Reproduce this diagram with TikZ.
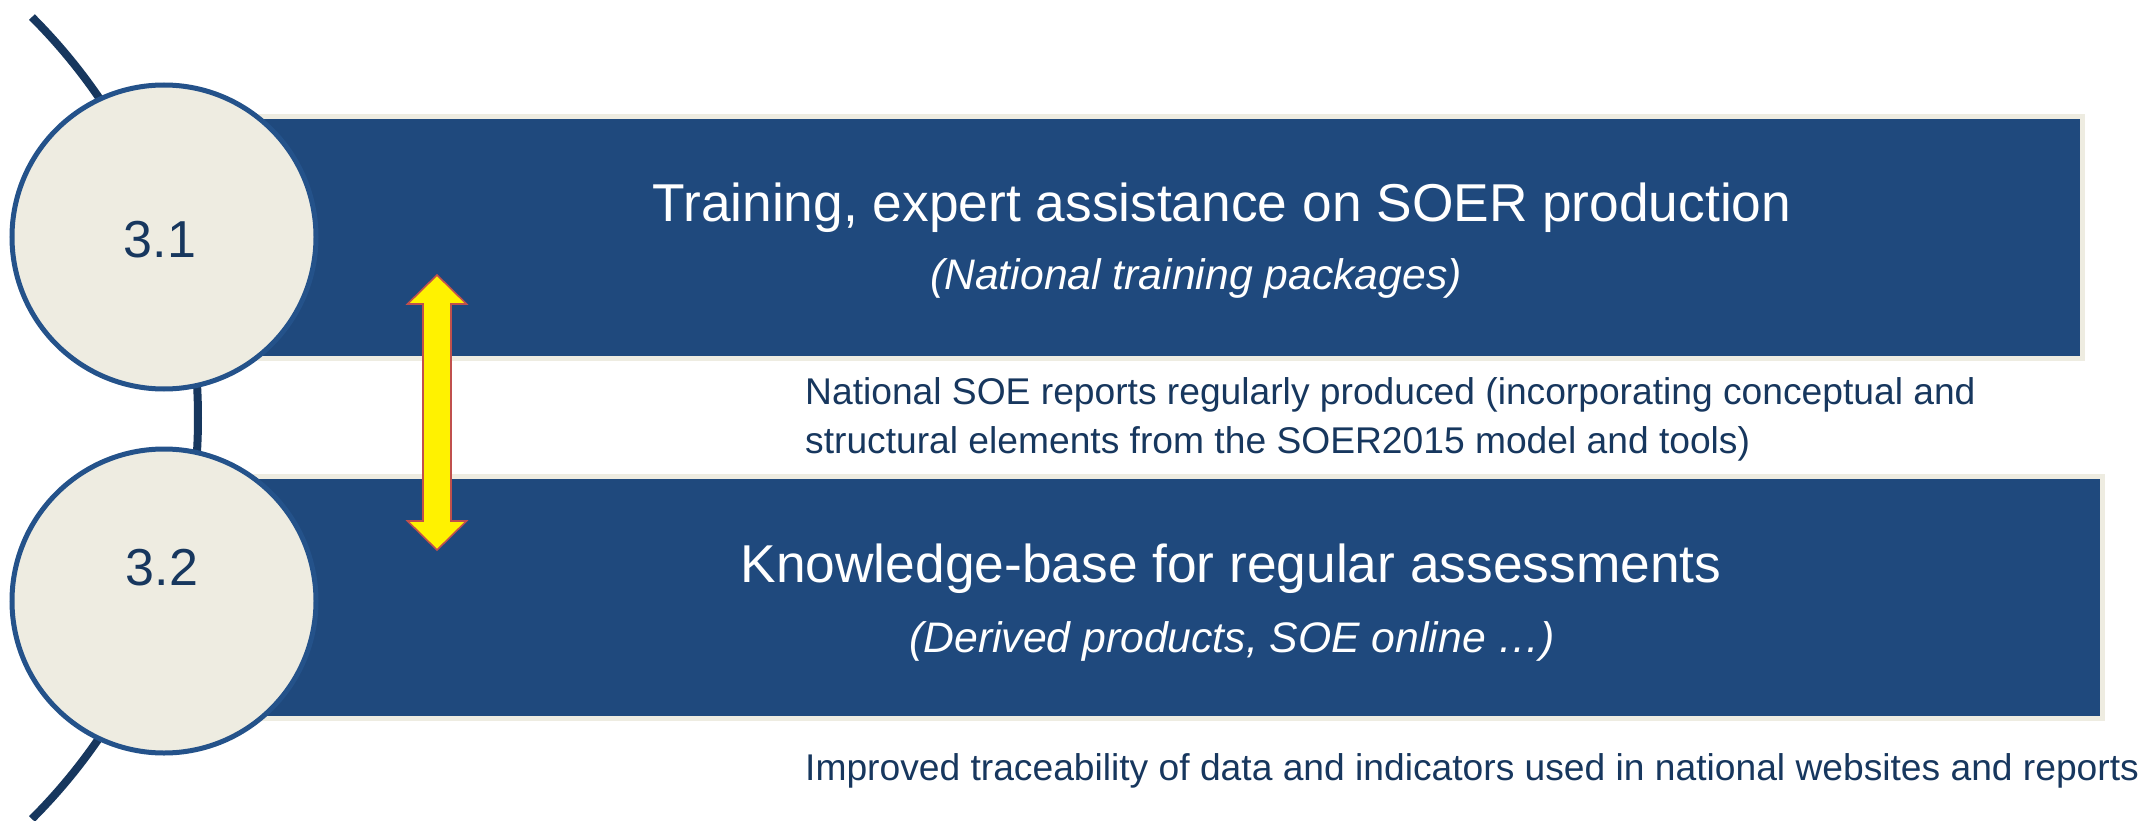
\documentclass[tikz,border=0pt]{standalone}
\usepackage{fontspec}
\setmainfont{Liberation Sans}
\definecolor{boxblue}{HTML}{1F497D}
\definecolor{cream}{HTML}{EEECE1}
\definecolor{ringblue}{HTML}{24528A}
\definecolor{navy}{HTML}{17375E}
\definecolor{arrowred}{HTML}{C0504D}
\begin{document}
\begin{tikzpicture}[x=1pt,y=-1pt,
  bar/.style={draw=cream,fill=boxblue,line width=5pt},
  disc/.style={circle,draw=ringblue,fill=cream,line width=5pt,minimum size=304pt,inner sep=0pt},
  num/.style={text=navy,font=\fontsize{52}{60}\selectfont,inner sep=0pt,anchor=base},
  title/.style={text=white,font=\fontsize{53.3}{60}\selectfont,inner sep=0pt,anchor=base},
  subtitle/.style={text=white,font=\fontsize{42.7}{48}\selectfont\itshape,inner sep=0pt,anchor=base},
  note/.style={text=navy,font=\fontsize{37.2}{44}\selectfont,inner sep=0pt,anchor=base west},
  dblarrow/.style={fill=yellow,draw=arrowred,line width=1.6pt,line join=miter}
]
\useasboundingbox (0,0) rectangle (2146,821);
\fill[white] (0,0) rectangle (2146,821);
% big arc behind the discs
\draw[navy,line width=8pt] (-369,418) ++(-45:567) arc[start angle=-45,end angle=45,radius=567];
% bars
\draw[bar] (164,116.5) rectangle (2082.5,358.5);
\draw[bar] (164,476.5) rectangle (2102,718.5);
% discs
\node[disc] (c1) at (164,237) {};
\node[disc] (c2) at (164,601) {};
\node[num] (n1) at (160,257) {3.1};
\node[num] (n2) at (162,585) {3.2};
% titles
\node[title] (t1) at (1222,222) {Training, expert assistance on SOER production};
\node[subtitle] (s1) at (1196,289) {(National training packages)};
\node[title] (t2) at (1231,582) {Knowledge-base for regular assessments};
\node[subtitle] (s2) at (1232,652) {(Derived products, SOE online \dots)};
% notes
\node[note] (o1) at (805,404) {National SOE reports regularly produced (incorporating conceptual and};
\node[note] (o2) at (805,453) {structural elements from the SOER2015 model and tools)};
\node[note] (o3) at (805,780) {Improved traceability of data and indicators used in national websites and reports};
% yellow double arrow
\draw[dblarrow] (437,275) -- (466.5,304) -- (451,304) -- (451,521) -- (466.5,521) -- (437,550)
  -- (407.5,521) -- (423,521) -- (423,304) -- (407.5,304) -- cycle;
\end{tikzpicture}
\end{document}
